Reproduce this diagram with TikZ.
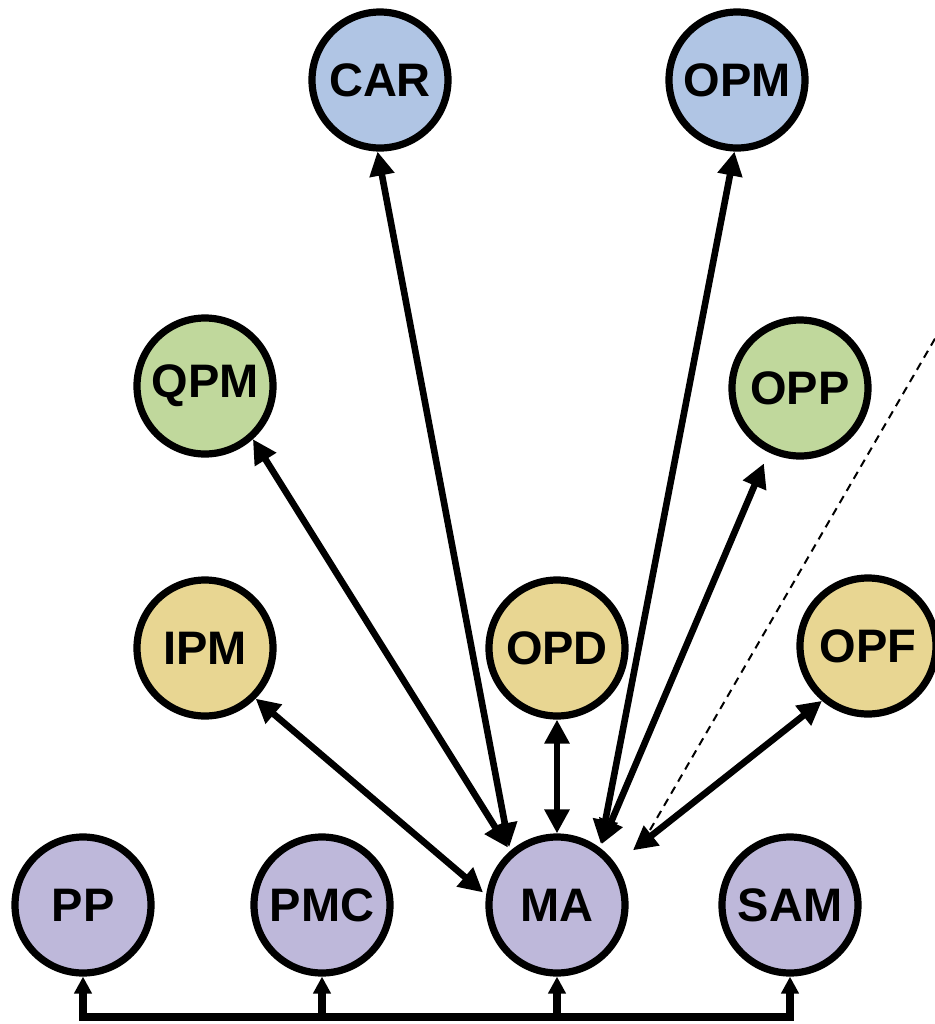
\documentclass[tikz,border=0pt]{standalone}
\usepackage{fontspec}
\setmainfont{Liberation Sans}
\usetikzlibrary{arrows.meta}

\definecolor{topblue}{HTML}{B0C5E4}
\definecolor{midgreen}{HTML}{C0D89C}
\definecolor{lowyellow}{HTML}{E8D692}
\definecolor{basepurple}{HTML}{BEB8DA}

\def\busy{1017}

\begin{document}
\begin{tikzpicture}[x=0.5pt,y=-0.5pt,
        unit/.style={circle,draw=black,line width=3.6pt,minimum size=68pt,inner sep=0pt,
            font=\fontsize{23.5}{23.5}\selectfont\bfseries},
        link/.style={{Triangle[length=12pt,width=12pt]}-{Triangle[length=12pt,width=12pt]},line width=3.3pt},
        feed/.style={-{Triangle[length=8.5pt,width=8.5pt]},line width=4.2pt}]
        \useasboundingbox (0,0) rectangle (934,1024);
        % top row
        \node[unit,fill=topblue] (CAR) at (380,80) {CAR};
        \node[unit,fill=topblue] (OPM) at (737,80) {OPM};
        % second row
        \node[unit,fill=midgreen] (QPM) at (205,386) {QPM};
        \node[unit,fill=midgreen] (OPP) at (800,388) {OPP};
        % third row
        \node[unit,fill=lowyellow] (IPM) at (205,648) {IPM};
        \node[unit,fill=lowyellow] (OPD) at (557,648) {OPD};
        \node[unit,fill=lowyellow] (OPF) at (868,646) {OPF};
        % bottom row
        \node[unit,fill=basepurple] (PP) at (83,905) {PP};
        \node[unit,fill=basepurple] (PMC) at (322,905) {PMC};
        \node[unit,fill=basepurple] (MA) at (557,905) {MA};
        \node[unit,fill=basepurple] (SAM) at (790,905) {SAM};
        % links out of MA
        \draw[link,shorten <=2pt] (MA.131) -- (CAR.268);
        \draw[link,shorten <=2pt] (MA.131) -- (QPM.-48);
        \draw[link,shorten <=2pt] (MA.172) -- (IPM.-45);
        \draw[link] (OPD.south) -- (MA.north);
        \draw[link,shorten <=2pt] (MA.53) -- (OPM.268);
        \draw[link,shorten <=2pt,shorten >=6pt] (MA.53) -- (OPP.244);
        \draw[link,shorten <=11pt] (MA.35) -- (OPF.230);
        % dashed line to the right
        \coordinate (dashlo) at (650,830);
        \coordinate (dashhi) at (940,330);
        \draw[line width=1pt,dash pattern=on 4pt off 3pt] (dashlo) -- (dashhi);
        % bus along the bottom
        \coordinate (bus) at (0,\busy);
        \draw[line width=4.2pt,line cap=rect] (PP |- bus) -- (SAM |- bus);
        \foreach \n in {PP,PMC,MA,SAM}
            \draw[feed] (\n |- bus) -- (\n.south);
    \end{tikzpicture}
\end{document}
